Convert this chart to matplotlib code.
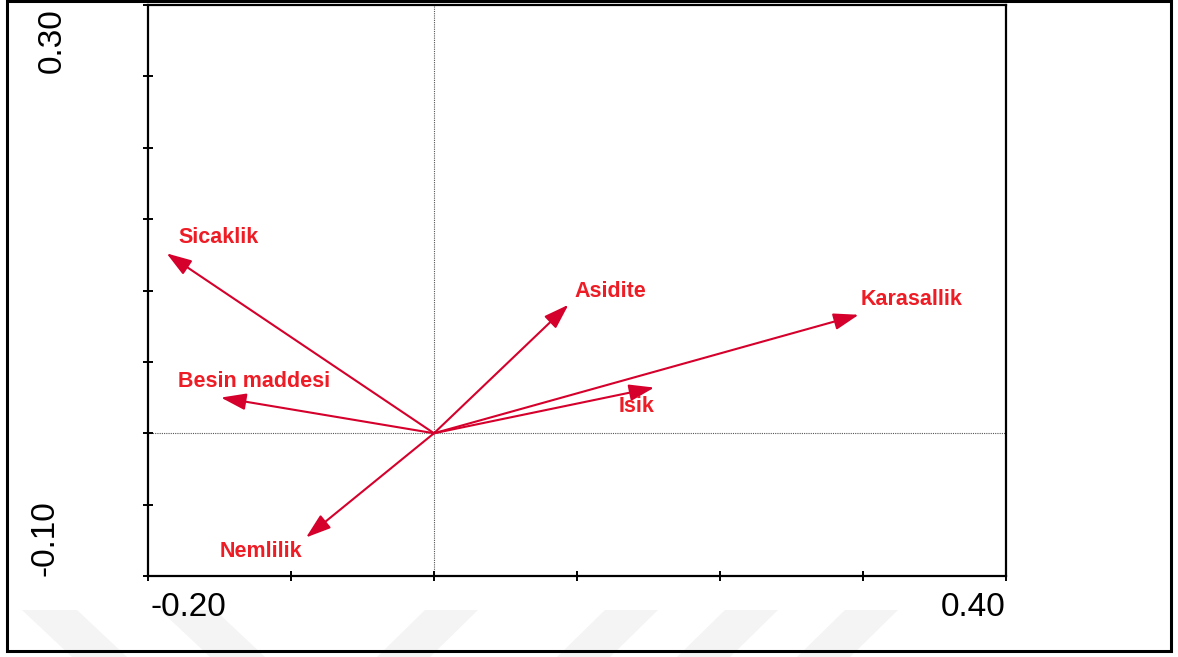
import matplotlib
matplotlib.use("Agg")
import matplotlib.pyplot as plt
from matplotlib.patches import Rectangle, Polygon

# Data (biplot arrows: environmental variables)
variables = ["Sicaklik", "Asidite", "Karasallik", "Isik", "Besin maddesi", "Nemlilik"]
x_end = [-0.187, 0.094, 0.297, 0.154, -0.149, -0.0895]
y_end = [0.126, 0.090, 0.083, 0.032, 0.025, -0.073]
label_x = [-0.179, 0.098, 0.298, 0.129, -0.179, -0.150]
label_y = [0.137, 0.0995, 0.094, 0.019, 0.036, -0.083]
xticks = [-0.2, -0.1, 0.0, 0.1, 0.2, 0.3, 0.4]
yticks = [-0.1, -0.05, 0.0, 0.05, 0.1, 0.15, 0.2, 0.25, 0.3]

W, H = 1178, 657
fig = plt.figure(figsize=(W / 100, H / 100), dpi=100)
fig.patch.set_facecolor("white")

# watermark chevrons (faint)
wm = "#f4f4f4"
for x0 in [22, 160]:
    fig.patches.append(Polygon([(x0 / W, 1 - 610 / H), ((x0 + 55) / W, 1 - 610 / H),
                                ((x0 + 105) / W, 0), ((x0 + 50) / W, 0)],
                               closed=True, transform=fig.transFigure, facecolor=wm,
                               edgecolor="none", zorder=0))
for x0 in [425, 605, 725, 845]:
    fig.patches.append(Polygon([(x0 / W, 1 - 610 / H), ((x0 + 53) / W, 1 - 610 / H),
                                ((x0 + 5) / W, 0), ((x0 - 48) / W, 0)],
                               closed=True, transform=fig.transFigure, facecolor=wm,
                               edgecolor="none", zorder=0))

# outer frame
fig.patches.append(Rectangle((7 / W, 1 - 651 / H), 1164 / W, 650 / H,
                             transform=fig.transFigure, fill=False,
                             edgecolor="black", linewidth=2.2, zorder=1))

ax = fig.add_axes([148 / W, 1 - 576 / H, 858 / W, 571 / H])
ax.set_facecolor("none")
ax.set_xlim(-0.2, 0.4)
ax.set_ylim(-0.1, 0.3)
for s in ax.spines.values():
    s.set_linewidth(1.6)
ax.set_xticks(xticks)
ax.set_yticks(yticks)
ax.set_xticklabels([])
ax.set_yticklabels([])
ax.tick_params(direction="inout", length=7, width=1.4, top=False, right=False)

ax.axhline(0, color="#555555", linestyle=(0, (1, 1)), linewidth=0.8, zorder=1)
ax.axvline(0, color="#555555", linestyle=(0, (1, 1)), linewidth=0.8, zorder=1)

arrow_col = "#d5002b"
text_col = "#ee1c25"
for name, xe, ye, lx, ly in zip(variables, x_end, y_end, label_x, label_y):
    ax.annotate("", xy=(xe, ye), xytext=(0, 0),
                arrowprops=dict(arrowstyle="-|>,head_length=0.9,head_width=0.3",
                                color=arrow_col, lw=1.5, shrinkA=0, shrinkB=0,
                                mutation_scale=17), zorder=3)
    ax.text(lx, ly, name, color=text_col, fontsize=15.5, fontweight="bold",
            family="Liberation Sans", ha="left", va="center", zorder=4)

# axis end labels
lab = dict(fontsize=24, family="Liberation Sans", color="black")
fig.text(150 / W, 1 - 607 / H, "-0.20", ha="left", va="center", **lab)
fig.text(1005 / W, 1 - 607 / H, "0.40", ha="right", va="center", **lab)
fig.text(52 / W, 1 - 8 / H, "0.30", ha="center", va="top", rotation=90, **lab)
fig.text(45 / W, 1 - 576 / H, "-0.10", ha="center", va="bottom", rotation=90, **lab)

fig.savefig("out.png", dpi=100)
